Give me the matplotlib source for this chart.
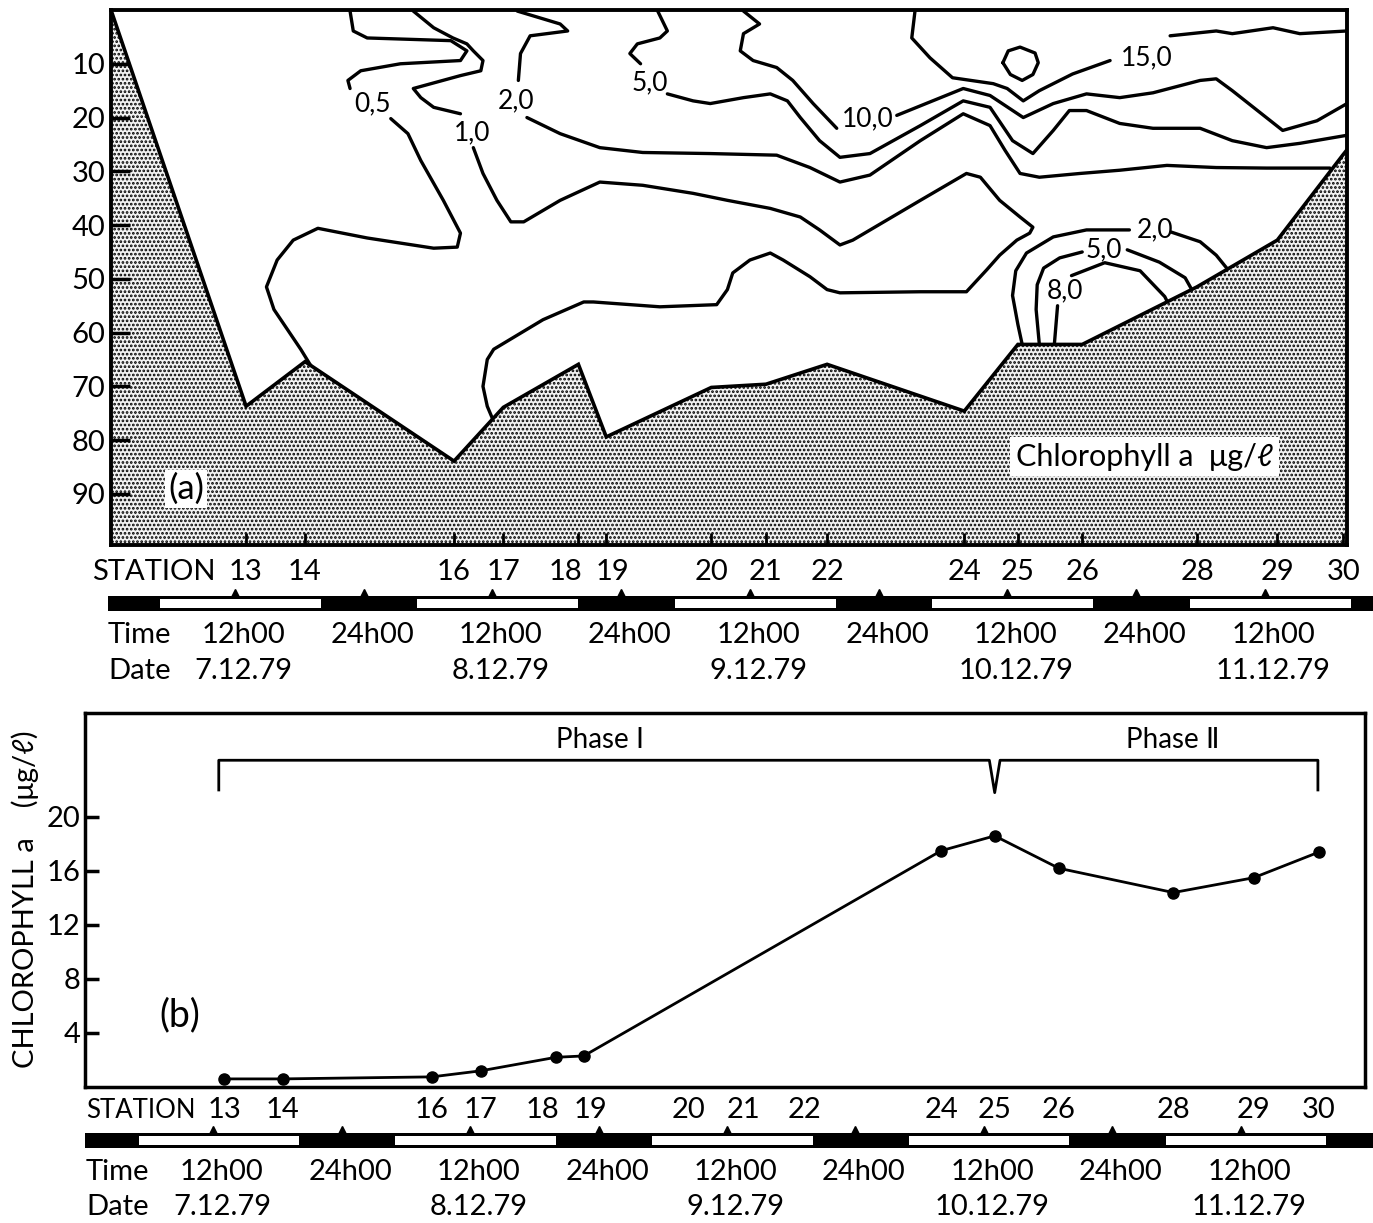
import matplotlib
matplotlib.use('Agg')
import matplotlib.pyplot as plt
from matplotlib.patches import Polygon, Rectangle
from matplotlib.transforms import blended_transform_factory as blend

plt.rcParams['font.family'] = ['Lato', 'DejaVu Sans']
plt.rcParams['hatch.linewidth'] = 1.3
plt.rcParams['hatch.color'] = 'black'

# ---------------- data ----------------
stations = ['13', '14', '16', '17', '18', '19', '20', '21', '22', '24', '25', '26', '28', '29', '30']
station_hours = [13.0, 18.5, 32.4, 37.0, 44.0, 46.6, 56.4, 61.5, 67.2, 80.0, 85.0, 91.0, 101.7, 109.2, 115.3]
bottom_depth = [73.7, 65.4, 83.9, 73.9, 65.9, 79.4, 70.2, 69.6, 65.9, 74.6, 62.2, 62.2, 51.5, 42.8, 27.0]
edge_depth_left = 0.0
edge_depth_right = 26.0

chl_stations = ['13', '14', '16', '17', '18', '19', '24', '25', '26', '28', '29', '30']
chl_values = [0.6, 0.6, 0.75, 1.2, 2.2, 2.3, 17.5, 18.6, 16.2, 14.4, 15.5, 17.4]

day_start = [5, 29, 53, 77, 101]
day_end = [20, 44, 68, 92, 116]
time_hours = [12, 24, 36, 48, 60, 72, 84, 96, 108]
time_labels = ['12h00', '24h00', '12h00', '24h00', '12h00', '24h00', '12h00', '24h00', '12h00']
date_hours = [12, 36, 60, 84, 108]
date_labels = ['7.12.79', '8.12.79', '9.12.79', '10.12.79', '11.12.79']

depth_ticks = [10, 20, 30, 40, 50, 60, 70, 80, 90]
chl_ticks = [4, 8, 12, 16, 20]

# contour traces (hour, depth) read from the section
c05_top = [(22.7, 0.2), (23.0, 3.9), (24.3, 5.2), (32.1, 5.7), (33.6, 7.6), (33.0, 9.4), (27.4, 10.0),
           (23.7, 11.3), (22.5, 13.1), (22.7, 14.6)]
c05_low = [(26.5, 20.2), (28.1, 23.0), (29.3, 28.0), (31.4, 35.4), (33.0, 41.5), (32.7, 44.1), (30.5, 44.3),
           (24.3, 42.4), (19.7, 40.6), (17.4, 42.8), (15.9, 46.5), (14.9, 51.5), (15.6, 55.7), (18.1, 63.1),
           (19.3, 67.0)]
c10_top = [(28.6, 0.2), (30.5, 3.3), (32.3, 5.2), (33.6, 6.3), (34.2, 7.6), (35.1, 9.4), (34.9, 11.3),
           (33.0, 12.2), (28.6, 14.6), (29.3, 16.3), (30.5, 18.1), (33.0, 19.3)]
c10_low = [(34.2, 25.6), (35.1, 30.4), (36.4, 35.4), (37.7, 39.4), (38.9, 39.4), (42.3, 35.4), (46.0, 32.0),
           (50.0, 32.6), (54.7, 34.1), (57.9, 35.4), (61.9, 36.9), (64.7, 38.5), (66.5, 40.9), (68.4, 43.7),
           (69.6, 42.8), (75.9, 35.4), (80.2, 30.4), (81.5, 31.1), (83.3, 35.4), (85.2, 38.5), (86.4, 40.4),
           (86.1, 41.5), (84.9, 42.8), (83.3, 45.6), (82.1, 48.3), (80.2, 52.4), (75.9, 52.4), (68.4, 52.6),
           (67.2, 52.0), (65.6, 49.6), (63.1, 46.5), (61.9, 45.2), (60.0, 46.5), (58.4, 48.9), (57.9, 52.0),
           (56.9, 54.8), (51.6, 55.2), (45.4, 54.3), (44.5, 54.3), (40.7, 57.6), (36.1, 63.1), (35.5, 65.0),
           (35.1, 70.0), (35.5, 73.7), (36.2, 77.0)]
c20_top = [(38.3, 0.2), (42.3, 2.6), (43.0, 3.9), (39.5, 4.8), (38.6, 8.1), (38.4, 13.1)]
c20_low = [(39.2, 20.0), (42.3, 23.0), (46.0, 25.6), (50.0, 26.5), (56.3, 26.7), (62.5, 27.0), (65.6, 29.3),
           (68.4, 32.0), (71.2, 30.7), (75.9, 24.3), (79.9, 19.3), (82.4, 21.5), (83.8, 26.1), (85.2, 30.4),
           (87.0, 31.1), (90.8, 30.4), (94.5, 29.8), (98.9, 28.9), (103.5, 29.3), (108.2, 29.4), (114.1, 29.4),
           (114.6, 31.0)]
c50_top = [(51.4, 0.2), (52.3, 3.9), (51.6, 5.2), (49.5, 6.3), (48.8, 8.1), (49.8, 10.0)]
c50_low = [(52.3, 15.6), (54.7, 16.9), (56.3, 17.4), (59.4, 16.3), (61.9, 15.6), (63.5, 16.9), (64.7, 20.0),
           (66.5, 24.3), (68.4, 27.4), (71.2, 26.7), (75.9, 21.5), (79.9, 16.9), (82.4, 18.1), (84.5, 24.3),
           (86.4, 26.7), (88.3, 22.4), (89.8, 18.7), (91.4, 18.7), (94.5, 21.1), (97.6, 22.0), (102.0, 22.0),
           (105.0, 24.3), (108.2, 25.6), (111.3, 24.8), (115.7, 23.3)]
c100_top = [(59.4, 0.2), (60.9, 2.6), (59.4, 4.4), (59.1, 7.6), (60.3, 9.4), (62.5, 10.7), (64.0, 13.1),
            (65.9, 17.4), (68.1, 22.0)]
c100_low = [(73.7, 19.6), (79.9, 14.6), (82.4, 15.9), (85.5, 20.0), (88.3, 17.4), (91.4, 15.6), (94.5, 16.3),
            (97.6, 15.4), (102.0, 13.1), (103.5, 12.8), (105.0, 15.0), (109.7, 22.4), (112.9, 20.6),
            (115.7, 17.4)]
c150_left = [(75.4, 0.2), (75.1, 5.2), (76.8, 8.9), (78.9, 12.6), (82.7, 13.7), (84.0, 14.6), (85.5, 16.9),
             (87.0, 15.0), (90.1, 11.9), (93.6, 9.4)]
c150_right = [(99.2, 4.8), (103.5, 3.9), (105.0, 4.4), (108.8, 3.3), (111.3, 4.4), (115.7, 3.9)]
c150_ring = [(83.6, 9.8), (84.1, 7.6), (85.2, 6.9), (86.6, 8.0), (86.9, 9.8), (86.4, 12.0), (85.4, 13.1),
             (84.3, 12.0), (83.6, 9.8)]
c20b_left = [(95.4, 40.9), (91.4, 40.9), (88.3, 42.2), (85.8, 45.2), (84.8, 48.5), (84.5, 53.1), (85.0, 58.5),
             (85.4, 62.2), (85.5, 64.0)]
c20b_right = [(99.3, 41.3), (102.0, 43.1), (103.5, 45.6), (104.6, 48.3), (105.2, 50.0)]
c50b_left = [(91.0, 45.0), (88.9, 46.1), (87.4, 48.0), (86.8, 51.1), (86.7, 55.7), (87.0, 62.2), (87.1, 64.0)]
c50b_right = [(95.2, 44.6), (98.2, 46.9), (100.6, 49.8), (101.5, 53.0)]
c80b_left = [(88.7, 55.0), (88.4, 62.2), (88.4, 64.0)]
c80b_arc = [(90.0, 49.4), (93.1, 47.0), (96.4, 48.5), (98.7, 53.3), (99.3, 55.7)]

contour_segments = [c05_top, c05_low, c10_top, c10_low, c20_top, c20_low, c50_top, c50_low,
                    c100_top, c100_low, c150_left, c150_right, c150_ring,
                    c20b_left, c20b_right, c50b_left, c50b_right, c80b_left, c80b_arc]

contour_labels = ['0,5', '1,0', '2,0', '5,0', '10,0', '15,0', '2,0', '5,0', '8,0']
label_hours = [24.8, 34.1, 38.2, 50.7, 71.0, 97.0, 97.8, 93.0, 89.4]
label_depths = [17.4, 22.8, 16.9, 13.5, 20.2, 8.9, 40.9, 44.6, 52.2]

bracket_hours = [12.5, 12.5, 84.5, 85.0, 85.5, 115.2, 115.2]
bracket_vals = [22.0, 24.2, 24.2, 21.8, 24.2, 24.2, 22.0]

# ---------------- figure ----------------
W, H = 1373, 1223
fig = plt.figure(figsize=(W / 100, H / 100), dpi=100)
fig.patch.set_facecolor('white')


def add_box(l, t, r, b):
    return fig.add_axes([l / W, 1 - b / H, (r - l) / W, (b - t) / H])


FS = 21
label_nudge = {'18': -1.2, '19': 0.6}

# ---- panel (a) ----
X0, X1 = 0.4, 115.7
ax = add_box(111, 10, 1347, 545)
ax.set_xlim(X0, X1)
ax.set_ylim(99.5, 0)
ax.set_axisbelow(False)

for seg in contour_segments:
    hh, dd = zip(*seg)
    ax.plot(hh, dd, color='black', lw=2.4, zorder=1, solid_capstyle='round', solid_joinstyle='round')

prof_h = [X0] + station_hours + [X1]
prof_d = [edge_depth_left] + bottom_depth + [edge_depth_right]
verts = list(zip(prof_h, prof_d)) + [(X1, 100), (X0, 100)]
ax.add_patch(Polygon(verts, closed=True, facecolor='#f2f2f2', edgecolor='black', hatch='....',
                     linewidth=0, zorder=1.5))
ax.plot(prof_h, prof_d, color='black', lw=2.6, zorder=2, solid_joinstyle='miter')

for t, h, d in zip(contour_labels, label_hours, label_depths):
    ax.text(h, d, t, ha='center', va='center', fontsize=19, zorder=3)

ax.text(7.4, 89.1, '(a)', ha='center', va='center', fontsize=25, zorder=4,
        bbox=dict(facecolor='white', edgecolor='none', pad=2))
ax.text(96.8, 83.1, 'Chlorophyll a  μg/ℓ', ha='center', va='center', fontsize=22, zorder=4,
        bbox=dict(facecolor='white', edgecolor='none', pad=4))

ax.set_yticks(depth_ticks)
ax.set_yticklabels([str(v) for v in depth_ticks])
ax.tick_params(axis='y', direction='in', length=14, width=2.5, labelsize=FS, pad=4)
ax.set_xticks(station_hours)
ax.tick_params(axis='x', direction='in', length=9, width=2, labelbottom=False)
for sp in ax.spines.values():
    sp.set_linewidth(2.8)


def day_bar(l, t, r, b, h0, h1):
    axb = add_box(l, t, r, b)
    axb.set_xlim(h0, h1)
    axb.set_ylim(0, 1)
    axb.axis('off')
    axb.add_patch(Rectangle((h0, 0), h1 - h0, 1, facecolor='black', edgecolor='none'))
    for s, e in zip(day_start, day_end):
        axb.add_patch(Rectangle((s, 0.22), e - s, 0.56, facecolor='white', edgecolor='none'))
    axb.plot(time_hours, [1.2] * len(time_hours), marker='^', ms=6, ls='none', color='black', clip_on=False)
    return axb


def rows(axb, y_station, y_time, y_date, x_head_station, x_head, fs_head):
    tr = blend(axb.transData, fig.transFigure)
    for s, h in zip(stations, station_hours):
        axb.text(h + label_nudge.get(s, 0), 1 - y_station / H, s, transform=tr,
                 ha='center', va='center', fontsize=FS)
    for lab, h in zip(time_labels, time_hours):
        axb.text(h + 0.8, 1 - y_time / H, lab, transform=tr, ha='center', va='center', fontsize=FS)
    for lab, h in zip(date_labels, date_hours):
        axb.text(h + 0.8, 1 - y_date / H, lab, transform=tr, ha='center', va='center', fontsize=FS)
    fig.text(x_head_station / W, 1 - y_station / H, 'STATION', ha='left', va='center', fontsize=fs_head)
    fig.text(x_head / W, 1 - y_time / H, 'Time', ha='left', va='center', fontsize=FS)
    fig.text(x_head / W, 1 - y_date / H, 'Date', ha='left', va='center', fontsize=FS)


bar_a = day_bar(108, 596, 1373, 611, (108 - 106) / 10.73, (1373 - 106) / 10.73)
rows(bar_a, 572, 635, 671, 92, 108, FS)

# ---- panel (b) ----
axb2 = add_box(85, 713, 1365, 1087)
axb2.set_xlim(0, 119.6)
axb2.set_ylim(0, 27.7)
chl_h = [station_hours[stations.index(s)] for s in chl_stations]
axb2.plot(chl_h, chl_values, '-o', color='black', lw=2.0, ms=8)
axb2.plot(bracket_hours, bracket_vals, color='black', lw=2.0)
axb2.text(48.1, 25.7, 'Phase Ⅰ', ha='center', va='center', fontsize=20)
axb2.text(101.6, 25.7, 'Phase Ⅱ', ha='center', va='center', fontsize=20)
axb2.text(8.9, 5.3, '(b)', ha='center', va='center', fontsize=27)
axb2.set_yticks(chl_ticks)
axb2.set_yticklabels([str(v) for v in chl_ticks])
axb2.tick_params(axis='y', direction='in', length=10, width=2.5, labelsize=FS, pad=3)
axb2.set_xticks([])
for sp in axb2.spines.values():
    sp.set_linewidth(2.5)
fig.text(25 / W, 1 - 899 / H, 'CHLOROPHYLL a    (μg/ℓ)', rotation=90, ha='center', va='center', fontsize=FS)

bar_b = day_bar(85, 1133, 1373, 1148, 0, (1373 - 85) / 10.7)
rows(bar_b, 1110, 1172, 1207, 86, 86, 18.5)

fig.savefig('out.png', dpi=100, facecolor='white')
